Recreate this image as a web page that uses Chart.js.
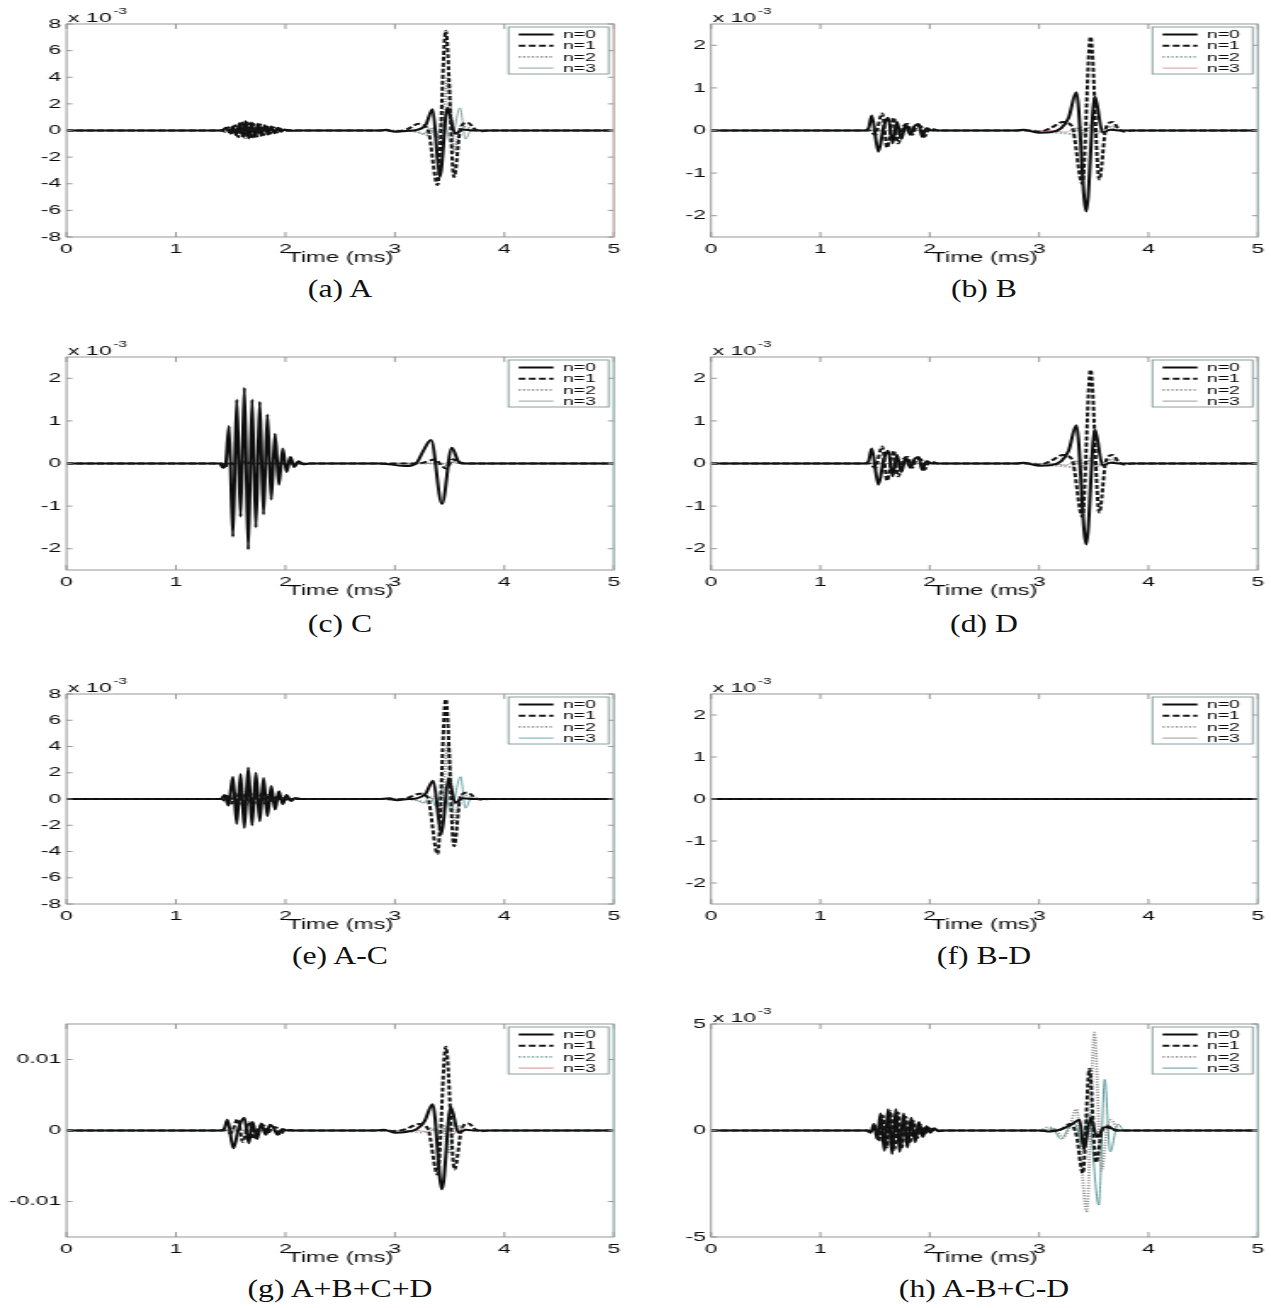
<!DOCTYPE html>
<html>
<head>
<meta charset="utf-8">
<script src="https://cdn.jsdelivr.net/npm/chart.js@4.4.1/dist/chart.umd.min.js"></script>
<style>
body { margin: 0; background: #fff; width: 1271px; height: 1308px; position: relative; overflow: hidden; }
canvas { position: absolute; }
.cap { position: absolute; width: 300px; text-align: center; font-family: "Liberation Serif", "Times New Roman", serif;
       font-size: 26px; line-height: 26px; color: #111; transform: scaleX(1.22); white-space: nowrap; }
</style>
</head>
<body>
<script>
// tick labels / categories
const xTicks = [0, 1, 2, 3, 4, 5];
const yTicks8 = [-8, -6, -4, -2, 0, 2, 4, 6, 8];
const yTicks2 = [-2, -1, 0, 1, 2];
const yTicksG = [-0.01, 0, 0.01];
const yTicksH = [-5, 0, 5];
const legendLabels = ["n=0", "n=1", "n=2", "n=3"];
const captions = ["(a) A", "(b) B", "(c) C", "(d) D", "(e) A-C", "(f) B-D", "(g) A+B+C+D", "(h) A-B+C-D"];

// series, [time ms, value] (x 10^-3 except panel g)
const a0 = [[0,0],[1.40,0],[1.43,0.05],[1.46,0.2],[1.49,-0.15],[1.52,0.3],[1.55,-0.35],[1.58,0.55],[1.61,-0.45],[1.635,0.7],[1.665,-0.6],[1.69,0.6],[1.72,-0.5],[1.75,0.5],[1.78,-0.4],[1.81,0.4],[1.84,-0.3],[1.87,0.3],[1.90,-0.2],[1.93,0.2],[1.96,-0.1],[1.99,0.08],[2.03,-0.02],[2.1,0],[2.85,0],[2.92,0.05],[3.0,-0.1],[3.1,-0.03],[3.2,0.05],[3.28,0.4],[3.345,1.6],[3.41,-3.5],[3.48,1.7],[3.55,-0.25],[3.62,0.08],[3.72,0],[5,0]];
const a1 = [[0,0],[1.42,0],[1.45,-0.1],[1.48,0.25],[1.51,-0.3],[1.54,0.4],[1.57,-0.5],[1.60,0.65],[1.63,-0.55],[1.655,0.6],[1.685,-0.6],[1.71,0.5],[1.74,-0.45],[1.77,0.45],[1.80,-0.35],[1.83,0.35],[1.86,-0.25],[1.89,0.25],[1.92,-0.15],[1.95,0.15],[1.98,-0.08],[2.02,0.03],[2.1,0],[2.9,0],[3.0,-0.05],[3.1,0.05],[3.22,0.5],[3.30,0.1],[3.39,-4.1],[3.465,7.5],[3.54,-3.5],[3.60,0.2],[3.66,0.6],[3.74,0.05],[3.80,-0.05],[3.86,0],[5,0]];
const a2 = [[0,0],[1.45,0],[1.55,0.08],[1.65,-0.08],[1.75,0.05],[1.85,0],[3.05,0],[3.15,-0.05],[3.25,-0.2],[3.30,-0.35],[3.36,0.2],[3.42,-1.0],[3.485,4.0],[3.545,-1.6],[3.60,0.3],[3.66,0.25],[3.72,0],[5,0]];
const a3 = [[0,0],[3.1,0],[3.2,-0.1],[3.26,-0.3],[3.32,0.2],[3.38,-0.6],[3.44,1.0],[3.51,-0.9],[3.595,1.7],[3.645,-0.65],[3.70,0.1],[3.78,0],[5,0]];

const b0 = [[0,0],[1.40,0],[1.44,0.05],[1.47,0.35],[1.53,-0.5],[1.58,0.1],[1.62,0.3],[1.66,-0.3],[1.70,0.2],[1.74,-0.2],[1.78,0.15],[1.82,-0.1],[1.86,0.1],[1.90,0.15],[1.93,-0.15],[1.97,0.05],[2.02,0],[2.8,0],[2.86,0.02],[2.93,-0.02],[3.0,-0.05],[3.1,-0.04],[3.2,0.05],[3.27,0.3],[3.34,0.9],[3.43,-1.9],[3.51,0.8],[3.58,-0.05],[3.65,0.02],[3.72,0],[5,0]];
const b1 = [[0,0],[1.45,0],[1.50,-0.1],[1.565,0.4],[1.61,-0.4],[1.67,0.3],[1.71,-0.3],[1.76,0.1],[1.80,0.15],[1.84,-0.1],[1.88,0.1],[1.92,0.1],[1.95,-0.15],[2.0,0.05],[2.08,0],[2.9,0],[3.0,-0.03],[3.1,0.05],[3.22,0.2],[3.30,0.1],[3.395,-1.25],[3.47,2.2],[3.55,-1.15],[3.61,0.05],[3.67,0.2],[3.73,0.03],[3.78,-0.03],[3.85,0],[5,0]];
const b2 = [[0,0],[2.95,0],[3.05,-0.04],[3.2,-0.06],[3.3,-0.08],[3.37,0.08],[3.42,-0.08],[3.47,0.12],[3.52,-0.08],[3.58,0.05],[3.65,0.08],[3.72,0],[5,0]];
const b3 = [[0,0],[3.1,0],[3.25,-0.04],[3.33,0.06],[3.40,-0.1],[3.46,0.08],[3.53,-0.07],[3.60,0.04],[3.67,0.1],[3.75,0],[5,0]];

const c0 = [[0,0],[1.40,0],[1.43,-0.1],[1.455,0],[1.485,0.88],[1.52,-1.72],[1.555,1.5],[1.59,-1.25],[1.625,1.78],[1.66,-2.02],[1.695,1.5],[1.73,-1.5],[1.765,1.45],[1.80,-1.2],[1.835,1.15],[1.87,-0.85],[1.905,0.7],[1.94,-0.5],[1.975,0.35],[2.01,-0.2],[2.045,0.15],[2.08,-0.08],[2.12,0.05],[2.16,-0.02],[2.22,0],[2.85,0],[2.95,-0.02],[3.1,-0.06],[3.2,0.02],[3.26,0.3],[3.33,0.55],[3.43,-0.95],[3.52,0.37],[3.58,0.05],[3.64,0],[5,0]];
const c1 = [[0,0],[1.42,0],[1.45,-0.08],[1.48,0.03],[1.55,-0.04],[1.62,0.04],[1.70,0],[3.2,0],[3.3,0.05],[3.37,0.1],[3.42,-0.03],[3.47,-0.12],[3.53,0.1],[3.58,0.02],[3.65,0],[5,0]];
const c2 = [[0,0],[3.3,0],[3.4,0.03],[3.47,-0.04],[3.54,0.03],[3.62,0],[5,0]];
const c3 = [[0,0],[3.32,0],[3.42,-0.03],[3.5,0.04],[3.58,0],[5,0]];

const e0 = [[0,0],[1.41,0],[1.445,0.3],[1.48,-0.5],[1.52,1.7],[1.555,-1.9],[1.59,1.9],[1.625,-2.2],[1.66,2.4],[1.695,-2.0],[1.73,2.0],[1.765,-1.7],[1.80,1.6],[1.835,-1.3],[1.87,1.0],[1.905,-0.8],[1.94,0.6],[1.975,-0.4],[2.01,0.3],[2.05,-0.15],[2.09,0.08],[2.14,0],[2.85,0],[2.95,0.05],[3.02,-0.1],[3.12,0],[3.2,0.05],[3.28,0.4],[3.35,1.4],[3.425,-2.7],[3.49,1.6],[3.55,-0.3],[3.62,0.05],[3.72,0],[5,0]];
const e1 = [[0,0],[1.42,0],[1.45,-0.15],[1.48,0.3],[1.51,-0.35],[1.54,0.45],[1.57,-0.5],[1.60,0.6],[1.63,-0.55],[1.66,0.6],[1.69,-0.55],[1.72,0.5],[1.75,-0.45],[1.78,0.4],[1.81,-0.35],[1.84,0.3],[1.87,-0.25],[1.90,0.2],[1.93,-0.15],[1.96,0.1],[1.99,-0.05],[2.05,0],[2.9,0],[3.0,-0.05],[3.1,0.05],[3.23,0.4],[3.30,0.1],[3.39,-4.2],[3.465,7.6],[3.54,-3.6],[3.60,0.2],[3.66,0.5],[3.74,0.05],[3.80,-0.05],[3.86,0],[5,0]];
const e2 = [[0,0],[3.05,0],[3.15,-0.05],[3.25,-0.2],[3.30,-0.35],[3.36,0.2],[3.42,-1.0],[3.485,4.2],[3.545,-1.8],[3.60,0.3],[3.66,0.25],[3.72,0],[5,0]];
const e3 = [[0,0],[3.1,0],[3.2,-0.1],[3.26,-0.3],[3.32,0.2],[3.38,-0.6],[3.44,1.0],[3.51,-0.9],[3.60,1.7],[3.645,-0.7],[3.70,0.1],[3.78,0],[5,0]];

const f0 = [[0,0],[5,0]];

const g0 = [[0,0],[1.40,0],[1.44,0.0002],[1.47,0.0015],[1.525,-0.0025],[1.575,0.0005],[1.625,0.0018],[1.665,-0.0018],[1.70,0.0012],[1.74,-0.0012],[1.78,0.001],[1.82,-0.0006],[1.86,0.0008],[1.89,0.0004],[1.93,-0.0006],[1.97,0.0002],[2.02,0],[2.8,0],[2.9,0.0001],[3.0,-0.0003],[3.1,-0.0002],[3.2,0.0002],[3.27,0.0013],[3.345,0.0037],[3.43,-0.0083],[3.51,0.0033],[3.58,-0.0003],[3.65,0.0001],[3.72,0],[5,0]];
const g1 = [[0,0],[1.45,0],[1.50,-0.0004],[1.565,0.0016],[1.61,-0.0016],[1.67,0.0012],[1.71,-0.0012],[1.76,0.0005],[1.80,0.0007],[1.84,-0.0004],[1.88,0.0005],[1.92,0.0004],[1.95,-0.0006],[2.0,0.00015],[2.08,0],[2.9,0],[3.0,-0.0001],[3.1,0.0002],[3.22,0.0009],[3.30,0.0003],[3.39,-0.0062],[3.465,0.0118],[3.545,-0.0055],[3.61,0.0002],[3.67,0.001],[3.74,0.0001],[3.8,-0.0001],[3.86,0],[5,0]];
const g2 = [[0,0],[3.0,0],[3.1,-0.0001],[3.25,-0.0003],[3.33,0.0003],[3.40,-0.0005],[3.44,0.0008],[3.49,-0.0032],[3.55,0.0009],[3.61,0.0003],[3.68,0],[5,0]];
const g3 = [[0,0],[3.2,0],[3.3,-0.0002],[3.37,0.0003],[3.43,-0.0004],[3.48,0.0006],[3.53,-0.0006],[3.59,0.0004],[3.66,0.0001],[3.72,0],[5,0]];

const h0 = [[0,0],[1.42,0],[1.46,-0.1],[1.49,0.3],[1.52,-0.4],[1.55,0.8],[1.585,-0.95],[1.62,1.0],[1.655,-1.1],[1.69,1.0],[1.725,-1.0],[1.76,0.8],[1.795,-0.8],[1.83,0.6],[1.865,-0.55],[1.90,0.4],[1.935,-0.3],[1.97,0.2],[2.005,-0.1],[2.04,0.1],[2.08,-0.03],[2.14,0],[3.0,0],[3.1,-0.05],[3.2,0.05],[3.3,0.3],[3.37,0.5],[3.41,-0.9],[3.47,0.6],[3.53,-0.3],[3.60,0.15],[3.66,0.1],[3.72,0],[5,0]];
const h1 = [[0,0],[1.45,0],[1.50,0.2],[1.535,-0.5],[1.57,0.7],[1.605,-0.8],[1.64,0.9],[1.675,-0.9],[1.71,0.85],[1.745,-0.8],[1.78,0.65],[1.815,-0.6],[1.85,0.45],[1.885,-0.35],[1.92,0.25],[1.955,-0.15],[1.99,0.1],[2.05,0],[3.1,0],[3.2,0.05],[3.28,0.3],[3.34,-0.2],[3.40,-2.0],[3.46,2.9],[3.52,-1.5],[3.58,0.1],[3.63,0.2],[3.70,0],[5,0]];
const h2 = [[0,0],[3.0,0],[3.08,0.15],[3.15,0.05],[3.22,-0.35],[3.28,0.2],[3.34,1.0],[3.435,-3.8],[3.505,4.6],[3.57,-1.9],[3.62,0.1],[3.66,0.5],[3.72,0.05],[3.80,0],[5,0]];
const h3 = [[0,0],[3.05,0],[3.12,0.1],[3.20,-0.4],[3.27,0.1],[3.33,0.3],[3.39,-0.6],[3.45,0.8],[3.545,-3.5],[3.60,2.4],[3.65,-1.0],[3.72,0.3],[3.78,0],[5,0]];

// the matlab figure is stretched horizontally in the scan
const S = 1.7;
const FONT = '"Liberation Sans", Arial, sans-serif';
Chart.defaults.font.family = FONT;
Chart.defaults.color = "#0a0a0a";

const rows = [
    { top: 24, bottom: 237, cap: 298 },
    { top: 357, bottom: 570, cap: 633 },
    { top: 694, bottom: 904, cap: 965 },
    { top: 1024, bottom: 1237, cap: 1298 }
];
const cols = [
    { left: 0, width: 640, plotL: 66.5, plotR: 614, cap: 340 },
    { left: 640, width: 631, plotL: 711, plotR: 1258, cap: 984 }
];

const panels = [
    { series: [a0, a1, a2, a3], min: -8, max: 8, yTicks: yTicks8, exp: true, n2: "#8e8e8e", n3: "#8fa3a3", edge: "#d2b0b0" },
    { series: [b0, b1, b2, b3], min: -2.5, max: 2.5, yTicks: yTicks2, exp: true, n2: "#7fa3a3", n3: "#d79c9c", edge: "#9fb3b3" },
    { series: [c0, c1, c2, c3], min: -2.5, max: 2.5, yTicks: yTicks2, exp: true, n2: "#8e8e8e", n3: "#8fa3a3", edge: "#99bcbc" },
    { series: [b0, b1, b2, b3], min: -2.5, max: 2.5, yTicks: yTicks2, exp: true, n2: "#a09090", n3: "#9a9a9a", edge: "#a3b0b0" },
    { series: [e0, e1, e2, e3], min: -8, max: 8, yTicks: yTicks8, exp: true, n2: "#959595", n3: "#6ea8a8", edge: "#a3b6b6" },
    { series: [f0, f0, f0, f0], min: -2.5, max: 2.5, yTicks: yTicks2, exp: true, n2: "#9a9a9a", n3: "#9a9a9a", edge: "#a3b6b6" },
    { series: [g0, g1, g2, g3], min: -0.015, max: 0.015, yTicks: yTicksG, exp: false, n2: "#7fa3a3", n3: "#d88c8c", edge: "#99bcbc" },
    { series: [h0, h1, h2, h3], min: -5, max: 5, yTicks: yTicksH, exp: true, n2: "#959595", n3: "#5e9a9a", edge: "#99bcbc" }
];

// lower order is drawn on top: dashed n=1 over solid n=0 over the thin ones
const drawOrder = [1, 0, 2, 3];

const matlabFrame = {
    id: "matlabFrame",
    afterDatasetsDraw(chart) {
        const opts = chart.options.plugins.matlabFrame;
        const { ctx, chartArea: ca } = chart;
        const x = chart.scales.x;
        const y = chart.scales.y;
        ctx.save();
        ctx.strokeStyle = "#8c8c8c";
        ctx.lineWidth = 0.9;
        ctx.beginPath();
        x.ticks.forEach(t => {
            const px = x.getPixelForValue(t.value);
            ctx.moveTo(px, ca.bottom);
            ctx.lineTo(px, ca.bottom - 5);
            ctx.moveTo(px, ca.top);
            ctx.lineTo(px, ca.top + 5);
        });
        y.ticks.forEach(t => {
            const py = y.getPixelForValue(t.value);
            ctx.moveTo(ca.left, py);
            ctx.lineTo(ca.left + 3.5, py);
            ctx.moveTo(ca.right, py);
            ctx.lineTo(ca.right - 3.5, py);
        });
        ctx.stroke();
        ctx.strokeRect(ca.left, ca.top, ca.right - ca.left, ca.bottom - ca.top);
        ctx.strokeStyle = opts.edge;
        ctx.beginPath();
        ctx.moveTo(ca.right, ca.top);
        ctx.lineTo(ca.right, ca.bottom);
        ctx.stroke();

        // legend box, top right inside the axes
        const bw = 59, bh = 47;
        const bx = ca.right - 3 - bw, by = ca.top + 3;
        ctx.fillStyle = "#fff";
        ctx.fillRect(bx, by, bw, bh);
        ctx.strokeStyle = "#7d9696";
        ctx.lineWidth = 0.9;
        ctx.strokeRect(bx, by, bw, bh);
        chart.data.datasets.forEach((ds, i) => {
            const ly = by + 7.5 + i * 11.2;
            ctx.beginPath();
            ctx.setLineDash(ds.borderDash || []);
            ctx.strokeStyle = ds.borderColor;
            ctx.lineWidth = ds.borderWidth;
            ctx.moveTo(bx + 6, ly);
            ctx.lineTo(bx + 26.5, ly);
            ctx.stroke();
            ctx.setLineDash([]);
            ctx.fillStyle = "#0a0a0a";
            ctx.font = "11.5px " + FONT;
            ctx.textBaseline = "middle";
            ctx.textAlign = "left";
            ctx.fillText(ds.label, bx + 32, ly + 0.5);
        });

        if (opts.exp) {
            ctx.fillStyle = "#0a0a0a";
            ctx.textAlign = "left";
            ctx.textBaseline = "alphabetic";
            ctx.font = "13.5px " + FONT;
            ctx.fillText("x 10", ca.left + 1, ca.top - 2.5);
            const w = ctx.measureText("x 10").width;
            ctx.font = "9px " + FONT;
            ctx.fillText("-3", ca.left + 2 + w, ca.top - 10);
        }
        ctx.restore();
    }
};

panels.forEach((p, k) => {
    const row = rows[Math.floor(k / 2)];
    const col = cols[k % 2];
    const wi = Math.round(col.width / S);
    const top = row.top - 24;
    const h = row.bottom + 34 - top;
    const plotL = (col.plotL - col.left) / S;
    const plotR = (col.plotR - col.left) / S;

    const cv = document.createElement("canvas");
    cv.width = wi;
    cv.height = h;
    cv.style.left = col.left + "px";
    cv.style.top = top + "px";
    cv.style.width = (wi * S) + "px";
    cv.style.height = h + "px";
    document.body.appendChild(cv);

    const styles = [
        { borderColor: "#0d0d0d", borderWidth: 2, borderDash: [] },
        { borderColor: "#151515", borderWidth: 2, borderDash: [4, 2] },
        { borderColor: p.n2, borderWidth: 1.8, borderDash: [1.2, 1.4] },
        { borderColor: p.n3, borderWidth: 1, borderDash: [] }
    ];

    new Chart(cv, {
        type: "line",
        data: {
            datasets: p.series.map((pts, i) => ({
                label: legendLabels[i],
                data: pts,
                ...styles[i],
                order: drawOrder[i],
                pointRadius: 0,
                fill: false,
                cubicInterpolationMode: "monotone"
            }))
        },
        options: {
            responsive: false,
            animation: false,
            events: [],
            layout: { padding: { left: 0, right: wi - plotR, top: 24, bottom: 0 } },
            plugins: {
                legend: { display: false },
                tooltip: { enabled: false },
                matlabFrame: { exp: p.exp, edge: p.edge }
            },
            scales: {
                x: {
                    type: "linear",
                    min: 0,
                    max: 5,
                    afterBuildTicks: s => { s.ticks = xTicks.map(v => ({ value: v })); },
                    afterFit: s => { s.height = 34; },
                    grid: { display: false, drawTicks: false },
                    border: { display: false },
                    ticks: { padding: 4, font: { size: 13.5 }, callback: v => String(v) },
                    title: { display: true, text: "Time (ms)", font: { size: 14 }, padding: { top: 0, bottom: 4.6 } }
                },
                y: {
                    type: "linear",
                    min: p.min,
                    max: p.max,
                    afterBuildTicks: s => { s.ticks = p.yTicks.map(v => ({ value: v })); },
                    afterFit: s => { s.width = plotL; },
                    grid: { display: false, drawTicks: false },
                    border: { display: false },
                    ticks: { padding: 3, font: { size: 13.5 }, callback: v => String(v) }
                }
            }
        },
        plugins: [matlabFrame]
    });

    const cap = document.createElement("div");
    cap.className = "cap";
    cap.textContent = captions[k];
    cap.style.left = (col.cap - 150) + "px";
    cap.style.top = (row.cap - 21.8) + "px";
    document.body.appendChild(cap);
});
</script>
</body>
</html>
